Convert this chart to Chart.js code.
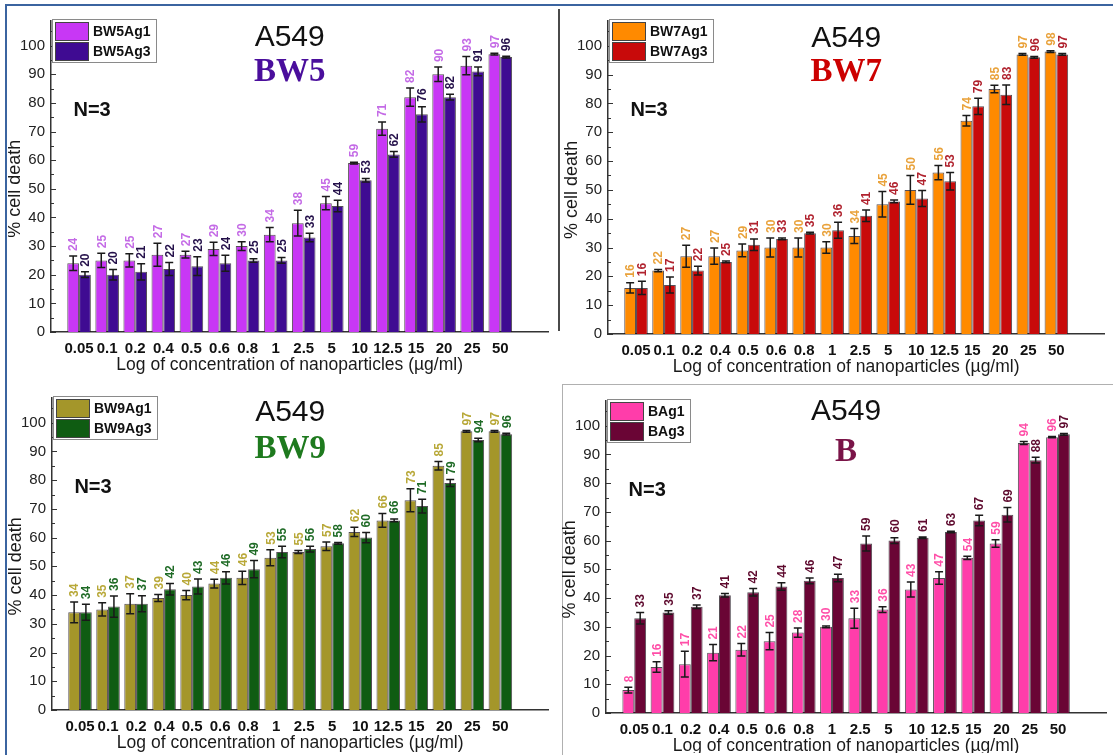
<!DOCTYPE html>
<html>
<head>
<meta charset="utf-8">
<title>A549 cell death</title>
<script src="https://cdn.jsdelivr.net/npm/chart.js@4.4.1/dist/chart.umd.min.js"></script>
<style>
  body { margin: 0; background: #fff; width: 1113px; height: 755px; position: relative; overflow: hidden; }
  canvas { position: absolute; }
  .rule { position: absolute; }
</style>
</head>
<body>
<div class="rule" style="left:5px;top:4px;width:2px;height:751px;background:#3b64a0"></div>
<div class="rule" style="left:5px;top:4px;width:1108px;height:2px;background:#3b64a0"></div>
<div class="rule" style="left:558px;top:9px;width:2px;height:322px;background:#4a4a4a"></div>
<div class="rule" style="left:562px;top:384px;width:551px;height:1px;background:#b0b0b0"></div>
<div class="rule" style="left:562px;top:384px;width:1px;height:371px;background:#b0b0b0"></div>

<canvas id="cBW5" width="545" height="372" style="left:8px;top:6px"></canvas>
<canvas id="cBW7" width="548" height="372" style="left:562px;top:6px"></canvas>
<canvas id="cBW9" width="545" height="370" style="left:8px;top:383px"></canvas>
<canvas id="cB" width="548" height="367" style="left:562px;top:386px"></canvas>

<script>
// ── Data ───────────────────────────────────────────────────────
const CONC = ['0.05', '0.1', '0.2', '0.4', '0.5', '0.6', '0.8', '1', '2.5', '5', '10', '12.5', '15', '20', '25', '50'];
const Y_TICKS = [0, 10, 20, 30, 40, 50, 60, 70, 80, 90, 100];

const BW5_AG1 = [24, 25, 25, 27, 27, 29, 30, 34, 38, 45, 59, 71, 82, 90, 93, 97];
const BW5_AG1_SD = [2.5, 2.5, 2.3, 4, 1.2, 2.3, 1.5, 2.5, 4.5, 2.3, 0.3, 2.3, 3.2, 2.5, 3.2, 0.3];
const BW5_AG3 = [20, 20, 21, 22, 23, 24, 25, 25, 33, 44, 53, 62, 76, 82, 91, 96];
const BW5_AG3_SD = [1, 1.8, 2.8, 2.3, 3.3, 2.8, 0.6, 1, 1.5, 2, 0.6, 1, 2.7, 1, 1.5, 0.3];

const BW7_AG1 = [16, 22, 27, 27, 29, 30, 30, 30, 34, 45, 50, 56, 74, 85, 97, 98];
const BW7_AG1_SD = [1.8, 0.4, 3.8, 2.8, 2.2, 3.3, 3.3, 2, 2.6, 4.4, 5, 2.5, 1.8, 1.3, 0.3, 0.3];
const BW7_AG3 = [16, 17, 22, 25, 31, 33, 35, 36, 41, 46, 47, 53, 79, 83, 96, 97];
const BW7_AG3_SD = [2.3, 2.8, 1.5, 0.3, 2, 0.3, 0.3, 2.8, 2, 0.5, 2.8, 3, 2.8, 3.4, 0.3, 0.3];

const BW9_AG1 = [34, 35, 37, 39, 40, 44, 46, 53, 55, 57, 62, 66, 73, 85, 97, 97];
const BW9_AG1_SD = [3.6, 2.3, 3.5, 1.2, 1.6, 1.5, 2.3, 2.8, 0.5, 1.5, 1.6, 2.4, 4, 1.5, 0.3, 0.3];
const BW9_AG3 = [34, 36, 37, 42, 43, 46, 49, 55, 56, 58, 60, 66, 71, 79, 94, 96];
const BW9_AG3_SD = [2.8, 3.7, 2.8, 2, 2.6, 2.1, 3, 2, 1, 0.3, 1.8, 0.5, 2.4, 1.2, 0.6, 0.3];

const B_AG1 = [8, 16, 17, 21, 22, 25, 28, 30, 33, 36, 43, 47, 54, 59, 94, 96];
const B_AG1_SD = [1, 1.8, 4.5, 2.8, 2.2, 3, 1.6, 0.3, 3.5, 1, 2.6, 2.2, 0.6, 1.3, 0.5, 0.2];
const B_AG3 = [33, 35, 37, 41, 42, 44, 46, 47, 59, 60, 61, 63, 67, 69, 88, 97];
const B_AG3_SD = [2, 0.6, 0.6, 0.6, 1.3, 1.3, 1, 1.3, 2.6, 1, 0.3, 0.3, 1.8, 2.5, 1, 0.3];

// ── Panels ─────────────────────────────────────────────────────
const PANELS = [
  { canvas: 'cBW5', name: 'BW5', nameColor: '#4a0e9c', cellY: 102.7,
    box: { axisW: 43, padTop: 4, padRight: 5, axisH: 46 },
    series: [
      { label: 'BW5Ag1', values: BW5_AG1, sd: BW5_AG1_SD, fill: '#c837f5', text: '#c46be6' },
      { label: 'BW5Ag3', values: BW5_AG3, sd: BW5_AG3_SD, fill: '#3f0b92', text: '#24104a' }
    ] },
  { canvas: 'cBW7', name: 'BW7', nameColor: '#cc0000', cellY: 102.4,
    box: { axisW: 46, padTop: 6, padRight: 6, axisH: 44 },
    series: [
      { label: 'BW7Ag1', values: BW7_AG1, sd: BW7_AG1_SD, fill: '#ff8a00', text: '#e9a23b' },
      { label: 'BW7Ag3', values: BW7_AG3, sd: BW7_AG3_SD, fill: '#c80a0a', text: '#b0222e' }
    ] },
  { canvas: 'cBW9', name: 'BW9', nameColor: '#1e7a1e', cellY: 103.4,
    box: { axisW: 44, padTop: 5, padRight: 5, axisH: 43 },
    series: [
      { label: 'BW9Ag1', values: BW9_AG1, sd: BW9_AG1_SD, fill: '#a4962a', text: '#b8a838' },
      { label: 'BW9Ag3', values: BW9_AG3, sd: BW9_AG3_SD, fill: '#0f5c12', text: '#1f6b26' }
    ] },
  { canvas: 'cB', name: 'B', nameColor: '#7a1448', cellY: 105,
    box: { axisW: 44, padTop: 6, padRight: 4, axisH: 40 },
    series: [
      { label: 'BAg1', values: B_AG1, sd: B_AG1_SD, fill: '#ff3daa', text: '#ff4fa8' },
      { label: 'BAg3', values: B_AG3, sd: B_AG3_SD, fill: '#6a0535', text: '#5e0a2e' }
    ] }
];

const SANS = "'Liberation Sans', Arial, sans-serif";
const SERIF = "'Liberation Serif', 'Times New Roman', serif";
Chart.defaults.font.family = SANS;
Chart.defaults.color = '#1a1a1a';

// ── Error bars, value labels, legend box and captions ─────────
const panelDecor = {
  id: 'panelDecor',
  afterDatasetsDraw(chart) {
    const { ctx, chartArea: a, scales: { y } } = chart;
    ctx.save();

    // inward tick marks on the y axis, minor ones every 5
    ctx.strokeStyle = '#333';
    ctx.lineWidth = 1;
    for (let v = 0; v <= 105; v += 5) {
      const py = Math.round(y.getPixelForValue(v)) + 0.5;
      ctx.beginPath();
      ctx.moveTo(a.left, py);
      ctx.lineTo(a.left + (v % 10 ? 3 : 5), py);
      ctx.stroke();
    }

    chart.data.datasets.forEach((ds, di) => {
      chart.getDatasetMeta(di).data.forEach((bar, i) => {
        const v = ds.data[i].y, sd = ds.sd[i];
        const yTop = y.getPixelForValue(v + sd);
        const yBot = y.getPixelForValue(v - sd);
        ctx.strokeStyle = '#1a1a1a';
        ctx.lineWidth = 1.5;
        ctx.beginPath();
        ctx.moveTo(bar.x, yTop); ctx.lineTo(bar.x, yBot);
        ctx.moveTo(bar.x - 4, yTop); ctx.lineTo(bar.x + 4, yTop);
        ctx.moveTo(bar.x - 4, yBot); ctx.lineTo(bar.x + 4, yBot);
        ctx.stroke();

        ctx.save();
        ctx.translate(bar.x + 1, yTop - 5);
        ctx.rotate(-Math.PI / 2);
        ctx.fillStyle = ds.textColor;
        ctx.font = 'bold 12px ' + SANS;
        ctx.textAlign = 'left';
        ctx.textBaseline = 'middle';
        ctx.fillText(String(v), 0, 0);
        ctx.restore();
      });
    });
    ctx.restore();
  },
  afterDraw(chart, args, opts) {
    const { ctx, chartArea: a, scales: { x, y } } = chart;
    const sets = chart.data.datasets;
    ctx.save();

    // legend box in the top-left corner of the plot
    ctx.font = 'bold 14px ' + SANS;
    const tw = Math.max(...sets.map(d => ctx.measureText(d.label).width));
    const lx = a.left + 1, ly = a.top - 2;
    const w = Math.round(3 + 33 + 5 + tw + 5), h = 43;
    ctx.fillStyle = '#fff';
    ctx.fillRect(lx, ly, w, h);
    ctx.strokeStyle = '#8a8a8a';
    ctx.lineWidth = 1;
    ctx.strokeRect(lx + 0.5, ly + 0.5, w, h);
    sets.forEach((d, k) => {
      const sy = ly + 3 + k * 20;
      ctx.fillStyle = d.backgroundColor;
      ctx.fillRect(lx + 3, sy, 33, 18);
      ctx.strokeStyle = '#444';
      ctx.strokeRect(lx + 3.5, sy + 0.5, 33, 18);
      ctx.fillStyle = '#111';
      ctx.textAlign = 'left';
      ctx.textBaseline = 'middle';
      ctx.fillText(d.label, lx + 41, sy + 10);
    });

    // cell line, sample name, replicate count
    const cx = x.getPixelForValue(7.5);
    ctx.textAlign = 'center';
    ctx.textBaseline = 'middle';
    ctx.fillStyle = '#111';
    ctx.font = '30px ' + SANS;
    ctx.fillText('A549', cx, y.getPixelForValue(opts.cellY));
    ctx.fillStyle = opts.nameColor;
    ctx.font = 'bold 33px ' + SERIF;
    ctx.fillText(opts.name, cx, y.getPixelForValue(91.4) + 2);
    ctx.fillStyle = '#111';
    ctx.font = 'bold 20px ' + SANS;
    ctx.textAlign = 'left';
    ctx.fillText('N=3', x.getPixelForValue(-0.2), y.getPixelForValue(77.5));

    // axis titles
    ctx.textAlign = 'center';
    ctx.font = '17.5px ' + SANS;
    ctx.fillStyle = '#1a1a1a';
    ctx.fillText('Log of concentration of nanoparticles (\u00b5g/ml)', cx, a.bottom + 33);
    ctx.save();
    ctx.translate(a.left - 36, y.getPixelForValue(50));
    ctx.rotate(-Math.PI / 2);
    ctx.font = '18px ' + SANS;
    ctx.fillText('% cell death', 0, 0);
    ctx.restore();

    ctx.restore();
  }
};

function buildPanel(p) {
  const datasets = p.series.map(s => ({
    label: s.label,
    data: s.values.map((v, i) => ({ x: i, y: v })),
    sd: s.sd,
    textColor: s.text,
    backgroundColor: s.fill,
    borderColor: 'rgba(30,20,30,0.75)',
    borderWidth: 1,
    categoryPercentage: 0.84,
    barPercentage: 1
  }));

  return new Chart(document.getElementById(p.canvas), {
    type: 'bar',
    data: { datasets },
    options: {
      responsive: false,
      animation: false,
      layout: { padding: { top: p.box.padTop, right: p.box.padRight, left: 0, bottom: 0 } },
      plugins: {
        legend: { display: false },
        tooltip: { enabled: false },
        panelDecor: { name: p.name, nameColor: p.nameColor, cellY: p.cellY }
      },
      scales: {
        x: {
          type: 'linear', min: -1, max: 16.7, offset: false,
          afterBuildTicks: s => { s.ticks = CONC.map((_, i) => ({ value: i })); },
          afterFit: s => { s.height = p.box.axisH; },
          grid: { display: false, drawTicks: false, offset: false },
          border: { color: '#333', width: 1.5 },
          ticks: {
            autoSkip: false, maxRotation: 0, padding: 8,
            font: { size: 15, weight: 'bold' }, color: '#111',
            callback: v => CONC[v] ?? ''
          }
        },
        y: {
          min: 0, max: 108.6,
          afterBuildTicks: s => { s.ticks = Y_TICKS.map(v => ({ value: v })); },
          afterFit: s => { s.width = p.box.axisW; },
          grid: { display: false, drawTicks: false },
          border: { color: '#333', width: 1.5 },
          ticks: { padding: 6, font: { size: 15 }, color: '#222' }
        }
      }
    },
    plugins: [panelDecor]
  });
}

PANELS.forEach(buildPanel);
</script>
</body>
</html>
